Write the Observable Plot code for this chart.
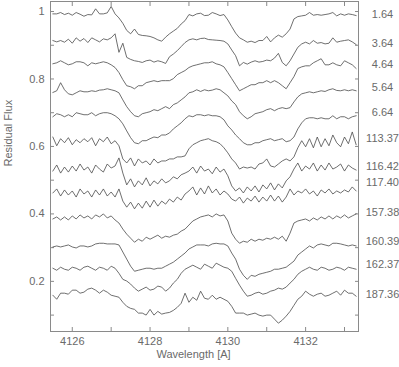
<!DOCTYPE html>
<html>
<head>
<meta charset="utf-8">
<script src="https://cdn.jsdelivr.net/npm/d3@7"></script>
<script src="https://cdn.jsdelivr.net/npm/@observablehq/plot@0.6"></script>
<style>
  html, body { margin: 0; padding: 0; background: #fff; }
</style>
</head>
<body>
<div id="chart"></div>
<script>
// Wavelength grid (Å)
const wave = [4125.5,4125.6,4125.7,4125.8,4125.9,4126.0,4126.1,4126.2,4126.3,4126.4,
4126.5,4126.6,4126.7,4126.8,4126.9,4127.0,4127.1,4127.2,4127.3,4127.4,
4127.5,4127.6,4127.7,4127.8,4127.9,4128.0,4128.1,4128.2,4128.3,4128.4,
4128.5,4128.6,4128.7,4128.8,4128.9,4129.0,4129.1,4129.2,4129.3,4129.4,
4129.5,4129.6,4129.7,4129.8,4129.9,4130.0,4130.1,4130.2,4130.3,4130.4,
4130.5,4130.6,4130.7,4130.8,4130.9,4131.0,4131.1,4131.2,4131.3,4131.4,
4131.5,4131.6,4131.7,4131.8,4131.9,4132.0,4132.1,4132.2,4132.3,4132.4,
4132.5,4132.6,4132.7,4132.8,4132.9,4133.0,4133.1,4133.2,4133.3];

// Series labels (right margin)
const phases = ["1.64","3.64","4.64","5.64","6.64","113.37","116.42","117.40","157.38","160.39","162.37","187.36"];
const labelFlux = [0.991,0.905,0.842,0.774,0.700,0.623,0.542,0.492,0.403,0.319,0.251,0.162];

// Residual flux (offset) for each spectrum
const s1 = [0.993,0.993,0.997,0.991,0.995,0.989,0.997,0.992,0.986,0.991,
0.990,1.008,0.993,0.993,0.996,1.015,0.993,0.981,0.965,0.944,
0.934,0.948,0.932,0.929,0.928,0.926,0.922,0.916,0.912,0.924,
0.934,0.942,0.950,0.963,0.973,0.991,0.987,0.993,0.995,0.988,
0.989,0.997,0.993,0.988,0.991,0.975,0.955,0.936,0.922,0.916,
0.909,0.912,0.908,0.914,0.914,0.926,0.910,0.922,0.930,0.924,
0.934,0.948,0.978,0.985,0.987,0.989,0.997,0.989,0.991,0.989,
0.991,0.993,0.997,0.987,0.993,0.989,0.993,0.991,0.988];
const s2 = [0.914,0.910,0.914,0.909,0.918,0.906,0.922,0.912,0.920,0.908,
0.922,0.916,0.910,0.919,0.916,0.922,0.934,0.879,0.906,0.864,
0.858,0.854,0.852,0.849,0.854,0.856,0.850,0.854,0.851,0.846,
0.866,0.874,0.884,0.896,0.908,0.916,0.919,0.916,0.920,0.921,
0.917,0.916,0.915,0.914,0.912,0.904,0.886,0.869,0.839,0.849,
0.844,0.850,0.854,0.850,0.852,0.856,0.854,0.862,0.876,0.849,
0.839,0.854,0.874,0.894,0.904,0.909,0.904,0.914,0.906,0.908,
0.904,0.906,0.922,0.909,0.912,0.914,0.916,0.910,0.902];
const s3 = [0.845,0.848,0.854,0.848,0.842,0.845,0.851,0.851,0.848,0.839,
0.848,0.845,0.848,0.851,0.848,0.842,0.834,0.819,0.798,0.780,
0.777,0.771,0.780,0.780,0.789,0.792,0.795,0.792,0.795,0.795,
0.795,0.801,0.813,0.819,0.825,0.834,0.839,0.842,0.845,0.848,
0.848,0.851,0.845,0.842,0.836,0.819,0.801,0.783,0.765,0.771,
0.777,0.783,0.783,0.789,0.789,0.795,0.789,0.795,0.789,0.780,
0.771,0.789,0.807,0.831,0.836,0.839,0.839,0.848,0.854,0.860,
0.842,0.842,0.848,0.842,0.839,0.854,0.848,0.842,0.831];
const s4 = [0.760,0.765,0.789,0.768,0.756,0.753,0.759,0.765,0.762,0.762,
0.765,0.763,0.767,0.768,0.771,0.768,0.765,0.759,0.738,0.718,
0.703,0.691,0.688,0.697,0.700,0.703,0.709,0.706,0.712,0.718,
0.712,0.724,0.729,0.738,0.747,0.759,0.762,0.768,0.763,0.768,
0.765,0.767,0.771,0.768,0.759,0.750,0.735,0.724,0.703,0.691,
0.682,0.688,0.697,0.700,0.703,0.709,0.712,0.706,0.712,0.715,
0.712,0.715,0.732,0.747,0.756,0.759,0.762,0.759,0.762,0.765,
0.763,0.768,0.771,0.766,0.765,0.768,0.765,0.768,0.765];
const s5 = [0.688,0.697,0.694,0.688,0.694,0.688,0.700,0.697,0.694,0.694,
0.700,0.691,0.697,0.700,0.700,0.697,0.691,0.682,0.667,0.646,
0.626,0.611,0.608,0.617,0.617,0.623,0.628,0.626,0.634,0.634,
0.640,0.652,0.661,0.670,0.682,0.691,0.688,0.694,0.694,0.691,
0.694,0.691,0.691,0.688,0.679,0.661,0.649,0.634,0.623,0.611,
0.605,0.605,0.611,0.611,0.617,0.620,0.623,0.617,0.620,0.623,
0.614,0.617,0.628,0.652,0.670,0.682,0.685,0.685,0.682,0.685,
0.682,0.682,0.691,0.682,0.688,0.688,0.682,0.688,0.691];
const s6 = [0.628,0.602,0.623,0.611,0.626,0.605,0.620,0.611,0.623,0.614,
0.626,0.602,0.623,0.614,0.628,0.608,0.617,0.602,0.563,0.551,
0.566,0.542,0.563,0.551,0.557,0.545,0.563,0.551,0.557,0.557,
0.563,0.563,0.569,0.569,0.572,0.593,0.605,0.611,0.617,0.620,
0.623,0.617,0.614,0.608,0.596,0.581,0.563,0.551,0.533,0.539,
0.536,0.539,0.533,0.548,0.551,0.563,0.542,0.539,0.548,0.557,
0.563,0.557,0.569,0.596,0.617,0.599,0.623,0.596,0.628,0.599,
0.623,0.602,0.634,0.611,0.599,0.628,0.608,0.643,0.605];
const s7 = [0.527,0.545,0.521,0.539,0.524,0.542,0.527,0.548,0.530,0.539,
0.521,0.545,0.533,0.524,0.548,0.536,0.542,0.566,0.521,0.486,
0.504,0.480,0.498,0.486,0.507,0.483,0.498,0.489,0.504,0.492,
0.498,0.510,0.504,0.516,0.521,0.527,0.539,0.521,0.542,0.527,
0.533,0.519,0.539,0.524,0.533,0.513,0.483,0.468,0.477,0.462,
0.480,0.468,0.483,0.465,0.486,0.474,0.492,0.471,0.489,0.477,
0.498,0.510,0.533,0.551,0.527,0.542,0.533,0.551,0.527,0.545,
0.530,0.551,0.533,0.539,0.548,0.527,0.545,0.536,0.530];
const s8 = [0.462,0.474,0.453,0.471,0.456,0.468,0.450,0.474,0.459,0.468,
0.450,0.471,0.456,0.474,0.453,0.465,0.450,0.474,0.438,0.420,
0.435,0.415,0.432,0.417,0.438,0.420,0.441,0.423,0.438,0.429,
0.444,0.435,0.450,0.441,0.459,0.468,0.480,0.456,0.477,0.459,
0.483,0.462,0.474,0.456,0.468,0.459,0.444,0.438,0.450,0.432,
0.447,0.438,0.453,0.435,0.450,0.438,0.456,0.438,0.453,0.435,
0.450,0.474,0.456,0.468,0.462,0.474,0.459,0.468,0.453,0.471,
0.462,0.474,0.459,0.468,0.462,0.471,0.465,0.480,0.468];
const s9 = [0.385,0.391,0.382,0.391,0.382,0.394,0.385,0.397,0.388,0.394,
0.385,0.397,0.391,0.400,0.388,0.394,0.382,0.373,0.355,0.340,
0.328,0.316,0.325,0.319,0.331,0.325,0.331,0.337,0.328,0.334,
0.331,0.337,0.340,0.349,0.355,0.367,0.379,0.385,0.391,0.394,
0.397,0.391,0.400,0.394,0.397,0.379,0.343,0.325,0.313,0.319,
0.316,0.325,0.319,0.325,0.322,0.328,0.325,0.331,0.325,0.334,
0.319,0.343,0.373,0.379,0.382,0.385,0.379,0.388,0.382,0.391,
0.385,0.394,0.385,0.394,0.388,0.397,0.388,0.394,0.400];
const s10 = [0.302,0.305,0.302,0.305,0.308,0.302,0.299,0.305,0.305,0.302,
0.305,0.311,0.313,0.313,0.311,0.311,0.311,0.308,0.287,0.266,
0.245,0.230,0.233,0.236,0.239,0.239,0.236,0.239,0.239,0.245,
0.251,0.257,0.266,0.275,0.284,0.296,0.302,0.308,0.308,0.308,
0.305,0.311,0.313,0.311,0.311,0.305,0.284,0.266,0.236,0.218,
0.206,0.218,0.215,0.221,0.224,0.227,0.230,0.236,0.236,0.239,
0.242,0.251,0.260,0.278,0.287,0.296,0.305,0.299,0.308,0.311,
0.308,0.305,0.313,0.313,0.311,0.308,0.305,0.308,0.305];
const s11 = [0.239,0.233,0.242,0.236,0.233,0.242,0.239,0.233,0.242,0.245,
0.239,0.233,0.242,0.239,0.233,0.245,0.239,0.224,0.206,0.201,
0.192,0.180,0.171,0.177,0.183,0.174,0.177,0.186,0.183,0.171,
0.180,0.195,0.206,0.224,0.236,0.242,0.248,0.242,0.236,0.251,
0.245,0.239,0.254,0.248,0.242,0.239,0.230,0.209,0.189,0.171,
0.156,0.159,0.165,0.168,0.162,0.165,0.171,0.174,0.180,0.177,
0.183,0.195,0.206,0.221,0.230,0.236,0.242,0.236,0.233,0.242,
0.239,0.233,0.236,0.242,0.239,0.233,0.242,0.239,0.236];
const s12 = [0.159,0.147,0.165,0.165,0.162,0.174,0.174,0.165,0.168,0.177,
0.180,0.174,0.165,0.174,0.168,0.159,0.156,0.153,0.138,0.126,
0.120,0.117,0.106,0.106,0.100,0.117,0.100,0.111,0.103,0.106,
0.108,0.114,0.123,0.135,0.165,0.138,0.153,0.144,0.171,0.150,
0.147,0.159,0.147,0.153,0.147,0.141,0.126,0.106,0.106,0.106,
0.100,0.103,0.106,0.100,0.097,0.100,0.100,0.088,0.076,0.085,
0.097,0.111,0.129,0.147,0.156,0.171,0.162,0.156,0.162,0.165,
0.156,0.159,0.165,0.171,0.159,0.174,0.165,0.165,0.156];

const xTicksAll = [4126,4127,4128,4129,4130,4131,4132,4133];
const xTickLabels = [4126,4128,4130,4132];
const yTicksAll = [0.1,0.2,0.3,0.4,0.5,0.6,0.7,0.8,0.9,1.0];
const yTickLabels = [0.2,0.4,0.6,0.8,1];
const xDomain = [4125.44, 4133.36];
const yDomain = [0.0514, 1.0297];

const spectra = [s1,s2,s3,s4,s5,s6,s7,s8,s9,s10,s11,s12];
const rows = [];
spectra.forEach((s, k) => s.forEach((f, i) => rows.push({w: wave[i], f, phase: phases[k]})));
const labelRows = phases.map((p, k) => ({phase: p, f: labelFlux[k]}));

const axisColor = "#8a8a8a";
const textColor = "#6a6a6a";
const plot = Plot.plot({
  width: 399,
  height: 367,
  marginLeft: 50,
  marginRight: 41,
  marginTop: 1,
  marginBottom: 36,
  style: {fontFamily: "'Liberation Sans', Arial, sans-serif", fontSize: "11px", color: textColor, background: "#fff"},
  x: {domain: xDomain, label: null},
  y: {domain: yDomain, label: null},
  marks: [
    Plot.frame({stroke: axisColor}),
    Plot.axisX(xTicksAll, {anchor: "bottom", tickSize: -4, stroke: axisColor, tickFormat: () => "", label: null}),
    Plot.axisX(xTicksAll, {anchor: "top", tickSize: -4, stroke: axisColor, tickFormat: () => "", label: null}),
    Plot.axisX(xTickLabels, {anchor: "bottom", tickSize: 0, tickPadding: 6, fill: textColor, tickFormat: d => String(d), label: null}),
    Plot.axisY(yTicksAll, {anchor: "left", tickSize: -4, stroke: axisColor, tickFormat: () => "", label: null}),
    Plot.axisY(yTicksAll, {anchor: "right", tickSize: -4, stroke: axisColor, tickFormat: () => "", label: null}),
    Plot.axisY(yTickLabels, {anchor: "left", tickSize: 0, tickPadding: 6, fill: textColor, tickFormat: d => String(d), label: null}),
    Plot.line(rows, {x: "w", y: "f", z: "phase", stroke: "#4a4a4a", strokeWidth: 0.8}),
    Plot.text(labelRows, {frameAnchor: "right", y: "f", text: "phase", dx: 24, textAnchor: "middle", fill: textColor}),
    Plot.text(["Residual Flux"], {frameAnchor: "left", dx: -42, rotate: -90, fill: textColor}),
    Plot.text(["Wavelength [A]"], {frameAnchor: "bottom", dy: 26, dx: -11, fill: textColor})
  ]
});
document.getElementById("chart").appendChild(plot);
</script>
</body>
</html>
